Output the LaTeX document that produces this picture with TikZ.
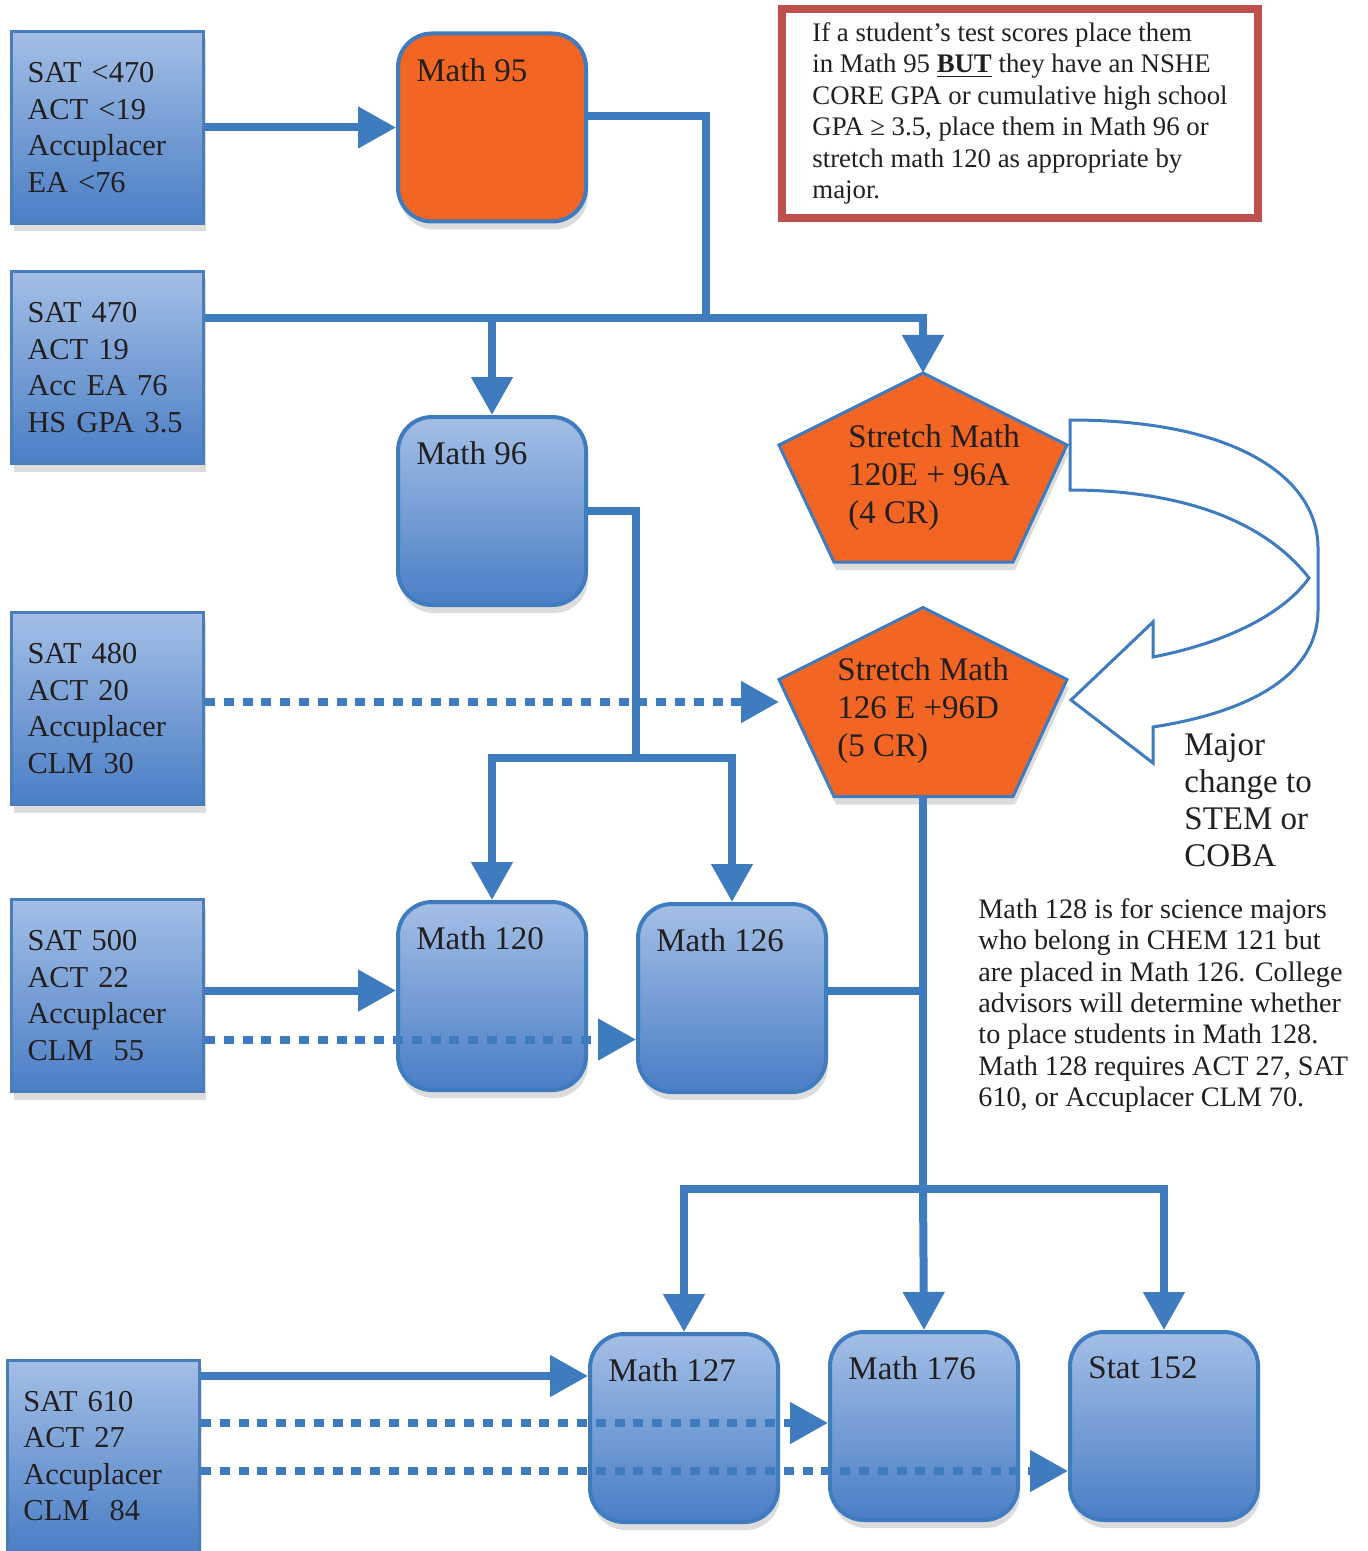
\documentclass[tikz,border=0pt]{standalone}
\usepackage{fontspec}
\setmainfont{Liberation Serif}
\usetikzlibrary{arrows.meta, calc, shadows}

\definecolor{conblue}{HTML}{3E7BBF}
\definecolor{boxtop}{HTML}{A3BFE6}
\definecolor{boxbot}{HTML}{4A7EC5}
\definecolor{boxedge}{HTML}{4A7EBB}
\definecolor{mathorange}{HTML}{F26522}
\definecolor{notered}{HTML}{C0504D}
\definecolor{inkdark}{HTML}{231F20}

\begin{document}
\begin{tikzpicture}[x=0.5pt, y=-0.5pt,
  softshadow/.style={drop shadow={opacity=0.3, shadow xshift=1pt, shadow yshift=-4pt, fill=black!45}},
  scorebox/.style={draw=boxedge, line width=1.5pt, top color=boxtop, bottom color=boxbot,
    minimum width=96pt, minimum height=96pt, text width=80pt, inner xsep=8pt,
    align=left, text=inkdark, font=\fontsize{15.2}{18.3}\selectfont, softshadow},
  coursetext/.style={anchor=north west, inner sep=0pt, xshift=10pt, yshift=-13.25pt,
    text=inkdark, font=\fontsize{16.5}{19}\selectfont},
  coursebox/.style={draw=conblue, line width=2pt, rounded corners=17pt,
    top color=boxtop, bottom color=boxbot, minimum width=94pt, minimum height=94pt,
    softshadow, label={[coursetext]north west:#1}},
  pentbox/.style={minimum width=144pt, minimum height=94.5pt, inner sep=0pt, outer sep=0pt},
  pentline/.style={draw=conblue, line width=1.5pt, fill=mathorange, softshadow},
  pentlabel/.style={anchor=north west, inner sep=0pt, align=left, text=inkdark,
    font=\fontsize{16.5}{19}\selectfont},
  sidetext/.style={anchor=north west, inner sep=0pt, align=left, text=inkdark},
  notebox/.style={draw=notered, line width=4pt, fill=white, minimum width=238pt,
    minimum height=104.5pt, align=left, text=inkdark, font=\fontsize{13.4}{15.7}\selectfont},
  link/.style={draw=conblue, line width=4pt},
  arrow/.style={link, -{Triangle[length=19pt, width=20pt]}},
  dotarrow/.style={arrow, dash pattern=on 5pt off 4.4pt},
  uturn/.style={draw=conblue, line width=1.5pt, fill=white}
]
\path[use as bounding box, fill=white] (0,0) rectangle (1368,1551);

% score boxes
\node[scorebox] (in1) at (107.5,127.5) {SAT <470\\ACT <19\\Accuplacer\\EA <76};
\node[scorebox] (in2) at (107.5,367.5) {SAT 470\\ACT 19\\Acc EA 76\\HS~GPA~3.5};
\node[scorebox] (in3) at (107.5,708.5) {SAT 480\\ACT 20\\Accuplacer\\CLM 30};
\node[scorebox] (in4) at (107.5,995.5) {SAT 500\\ACT 22\\Accuplacer\\CLM~~55};
\node[scorebox] (in5) at (103.5,1456) {SAT 610\\ACT 27\\Accuplacer\\CLM~~84};

% courses
\node[coursebox={Math 95}, top color=mathorange, bottom color=mathorange] (m95) at (492,127.5) {};
\node[coursebox={Math 96}] (m96) at (492,511) {};
\node[coursebox={Math 120}] (m120) at (492,996) {};
\node[coursebox={Math 126}] (m126) at (732,998) {};
\node[coursebox={Math 127}] (m127) at (684,1428) {};
\node[coursebox={Math 176}] (m176) at (924,1426) {};
\node[coursebox={Stat 152}] (s152) at (1164,1426) {};

% stretch courses
\node[pentbox] (sm120) at (923,467.5) {};
\node[pentbox] (sm126) at (923,702) {};
\foreach \p in {sm120, sm126}
  \draw[pentline] (\p.north) -- ($(\p.north east)!.381!(\p.south east)$)
    -- ($(\p.south)!.625!(\p.south east)$) -- ($(\p.south)!.618!(\p.south west)$)
    -- ($(\p.north west)!.381!(\p.south west)$) -- cycle;
\node[pentlabel] (sm120txt) at (848,424.5) {Stretch Math\\120E + 96A\\(4 CR)};
\node[pentlabel] (sm126txt) at (837,657.5) {Stretch Math\\126 E +96D\\(5 CR)};

% major change
\draw[uturn] (1070,420) .. controls (1240,420) and (1318,480) .. (1318,548) -- (1318,610)
  .. controls (1318,675) and (1250,712) .. (1153,727) -- (1153,763) -- (1071,700)
  -- (1153,622) -- (1153,657) .. controls (1230,642) and (1285,612) .. (1309,578)
  .. controls (1260,515) and (1170,490) .. (1070,490) -- cycle;
\node[sidetext, font=\fontsize{16.5}{18.6}\selectfont] (major) at (1184,733)
  {Major\\change to\\STEM or\\COBA};

\node[notebox] (note) at (1020,113.5) {If a student’s test scores place them\\in Math 95 \underline{\textbf{BUT}} they have an NSHE\\CORE GPA or cumulative high school\\GPA ≥ 3.5, place them in Math 96 or\\stretch math 120 as appropriate by\\major.};
\node[sidetext, font=\fontsize{14.1}{15.7}\selectfont] (m128note) at (978,898)
  {Math 128 is for science majors\\who belong in CHEM 121 but\\are placed in Math 126. College\\advisors will determine whether\\to place students in Math 128.\\Math 128 requires ACT 27, SAT\\610, or Accuplacer CLM 70.};

% connectors
\coordinate (split1) at ([yshift=24.75pt]in2.east);
\coordinate (split2) at (636,758);
\coordinate (split3) at (sm126.south |- 0,1189);
\coordinate (in4a) at ([yshift=2.5pt]in4.east);
\coordinate (in4b) at ([yshift=-22pt]in4.east);
\coordinate (m126r) at ([yshift=3.5pt]m126.east);
\coordinate (in5a) at ([yshift=40pt]in5.east);
\coordinate (in5b) at ([yshift=16.5pt]in5.east);
\coordinate (in5c) at ([yshift=-7.5pt]in5.east);

\draw[arrow] (in1) -- (m95);
\draw[link] ([yshift=5.5pt]m95.east) -| (split1 -| 706,0);
\draw[arrow] (split1) -| (sm120.north);
\draw[arrow] (split1 -| m96.north) -- (m96.north);
\draw[link] (m96.east) -| (split2);
\draw[arrow] (split2) -| (m120.north);
\draw[arrow] (split2) -| (m126.north);
\draw[dotarrow] (in3.east |- sm126.west) -- (sm126.west);
\draw[arrow] (in4a) -- (in4a -| m120.west);
\draw[dotarrow] (in4b) -- (in4b -| m126.west);
\draw[link] (m126r) -- (m126r -| sm126.south);
\draw[link] (sm126.south) -- (split3);
\draw[arrow] (split3) -| (m127.north);
\draw[arrow] (split3) -- (m176.north);
\draw[arrow] (split3) -| (s152.north);
\draw[arrow] (in5a) -- (in5a -| m127.west);
\draw[dotarrow] (in5b) -- (in5b -| m176.west);
\draw[dotarrow] (in5c) -- (in5c -| s152.west);

\end{tikzpicture}
\end{document}
